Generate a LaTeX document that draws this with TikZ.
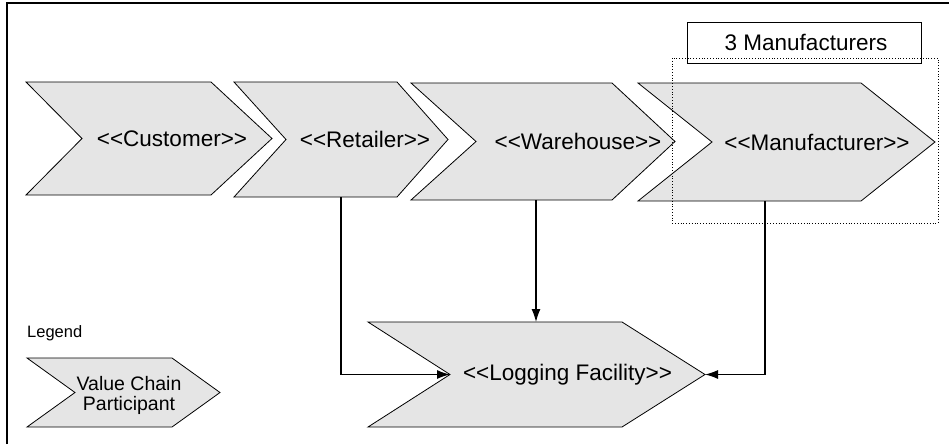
\documentclass[tikz,border=0pt]{standalone}
\usepackage{fontspec}
\newfontfamily\labfont{Liberation Sans}
\usetikzlibrary{arrows.meta}
\begin{document}
\begin{tikzpicture}[x=1pt,y=-1pt,
  chev/.style={draw=black,line width=0.8pt,fill=black!10,line join=miter},
  lab/.style={font=\labfont\fontsize{22.5}{26}\selectfont,inner sep=0pt,anchor=center},
  conn/.style={line width=1.2pt,-{Latex[length=13pt,width=9pt]}}]
\useasboundingbox (0,0) rectangle (949,444);
\draw[line width=1.5pt] (7,444) -- (7,3) -- (949,3);
% chevrons
\draw[chev] (26,82) -- (211,82) -- (272,138.5) -- (211,195) -- (26,195) -- (82,138.5) -- cycle;
\draw[chev] (234,82) -- (397,82) -- (448,139.5) -- (397,197) -- (234,197) -- (286,139.5) -- cycle;
\draw[chev] (411,83) -- (612,83) -- (675,141.5) -- (612,200) -- (411,200) -- (476,141.5) -- cycle;
\draw[chev] (638,83) -- (861,83) -- (935,142) -- (861,201) -- (638,201) -- (712,142) -- cycle;
\draw[chev] (368,322) -- (622,322) -- (705,374.5) -- (622,427) -- (368,427) -- (450,374.5) -- cycle;
\draw[chev] (27,358) -- (172,358) -- (220,392.5) -- (172,427) -- (27,427) -- (75,392.5) -- cycle;
% labels
\node[lab] (cust) at (172,138.5) {<{}<Customer>{}>};
\node[lab] (ret) at (365,139.5) {<{}<Retailer>{}>};
\node[lab] (ware) at (578,141.5) {<{}<Warehouse>{}>};
\node[lab] (manu) at (817,142) {<{}<Manufacturer>{}>};
\node[lab] (logf) at (567.5,374.5) {<{}<Logging Facility>{}>};
\node[lab] (three) at (806,42) {3 Manufacturers};
\node[lab,font=\labfont\fontsize{16.5}{19}\selectfont,anchor=west] (legend) at (27,333) {Legend};
\node[lab,font=\labfont\fontsize{19.5}{20}\selectfont,align=center] (vcp) at (129,395) {Value Chain\\Participant};
% boxes
\draw[line width=0.8pt] (687,22) rectangle (921,63);
\draw[line width=0.8pt,dotted] (672,58) rectangle (938,223);
% connector end points
\coordinate (retB) at (341,197);
\coordinate (wareB) at (536,200);
\coordinate (manuB) at (765,201);
\coordinate (logNotch) at (450,374.5);
\coordinate (logTop) at (536,322);
\coordinate (logTip) at (705,374.5);
\draw[conn] (retB) |- (logNotch);
\draw[conn] (wareB) -- (logTop);
\draw[conn] (manuB) |- (logTip);
\end{tikzpicture}
\end{document}
